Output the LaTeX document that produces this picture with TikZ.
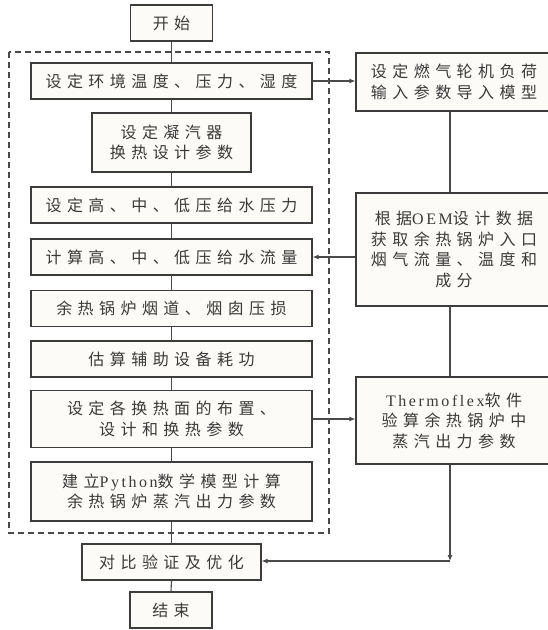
\documentclass[tikz,border=0pt]{standalone}
\usepackage{fontspec}
\usetikzlibrary{arrows.meta}
\newfontfamily\cjkfont[LetterSpace=34]{Noto Sans CJK SC}
\newfontfamily\enfont[LetterSpace=16]{Liberation Serif}
\newcommand\en[1]{{\enfont #1}}
\definecolor{bordercol}{HTML}{3C3C3C}
\definecolor{fillcol}{HTML}{FDFBF7}
\definecolor{textcol}{HTML}{3A3A3A}
\definecolor{linecol}{HTML}{4A4A4A}
\tikzset{
  box/.style={draw=bordercol, fill=fillcol, line width=1.1pt, inner sep=0pt, align=center,
    text=textcol, font={\cjkfont\fontsize{16}{20.5}\selectfont}},
  conn/.style={draw=linecol, line width=1.1pt},
  arr/.style={conn, -{Latex[length=6pt,width=5pt]}},
  dashbox/.style={draw=linecol, line width=1.1pt, dash pattern=on 6pt off 4pt}
}
\begin{document}
\begin{tikzpicture}[x=1pt,y=-1pt]
\useasboundingbox (0,0) rectangle (547,630);
% dashed frame
\draw[dashbox] (9,52) rectangle (329,533);
% left column
\node[box, minimum width=82pt, minimum height=36pt] (start) at (171.5,23) {开始};
\node[box, minimum width=281pt, minimum height=36pt] (b1) at (171.5,81) {设定环境温度、压力、湿度};
\node[box, minimum width=159pt, minimum height=59pt] (b2) at (171.5,142.5) {设定凝汽器\\换热设计参数};
\node[box, minimum width=281pt, minimum height=36pt] (b3) at (171.5,205) {设定高、中、低压给水压力};
\node[box, minimum width=281pt, minimum height=36pt] (b4) at (171.5,257) {计算高、中、低压给水流量};
\node[box, minimum width=281pt, minimum height=36pt] (b5) at (171.5,308.5) {余热锅炉烟道、烟囱压损};
\node[box, minimum width=281pt, minimum height=36pt] (b6) at (171.5,359) {估算辅助设备耗功};
\node[box, minimum width=281pt, minimum height=57pt] (b7) at (171.5,419) {设定各换热面的布置、\\设计和换热参数};
\node[box, minimum width=281pt, minimum height=59pt] (b8) at (171.5,491.5) {建立\en{Python}数学模型计算\\余热锅炉蒸汽出力参数};
\node[box, minimum width=179pt, minimum height=36pt] (b9) at (171.5,562) {对比验证及优化};
\node[box, minimum width=82pt, minimum height=36pt] (end) at (171,610) {结束};
% right column
\node[box, minimum width=196pt, minimum height=58pt] (r1) at (454,82) {设定燃气轮机负荷\\输入参数导入模型};
\node[box, minimum width=196pt, minimum height=113pt] (r2) at (454,249.5) {根据\en{OEM}设计数据\\获取余热锅炉入口\\烟气流量、温度和\\成分};
\node[box, minimum width=196pt, minimum height=87pt] (r3) at (454,420.5) {\en{Thermoflex}软件\\验算余热锅炉中\\蒸汽出力参数};
\coordinate (corner) at (450,561);
% connectors left
\draw[conn] (start.south) -- (b1.north);
\draw[conn] (b1.south) -- (b2.north);
\draw[conn] (b2.south) -- (b3.north);
\draw[conn] (b3.south) -- (b4.north);
\draw[conn] (b4.south) -- (b5.north);
\draw[conn] (b5.south) -- (b6.north);
\draw[conn] (b6.south) -- (b7.north);
\draw[conn] (b7.south) -- (b8.north);
\draw[conn] (b8.south) -- (b9.north);
\draw[conn] (b9.south) -- (end.north);
% connectors right
\draw[conn] (r1.south -| corner) -- (r2.north -| corner);
\draw[conn] (r2.south -| corner) -- (r3.north -| corner);
\draw[arr] (r3.south -| corner) -- (corner);
\draw[arr] (corner) -- (b9.east |- corner);
% cross arrows
\draw[arr] (b1.east) -- (r1.west |- b1.east);
\draw[arr] (r2.west |- b4.east) -- (b4.east);
\draw[arr] (b7.east) -- (r3.west |- b7.east);
\end{tikzpicture}
\end{document}
